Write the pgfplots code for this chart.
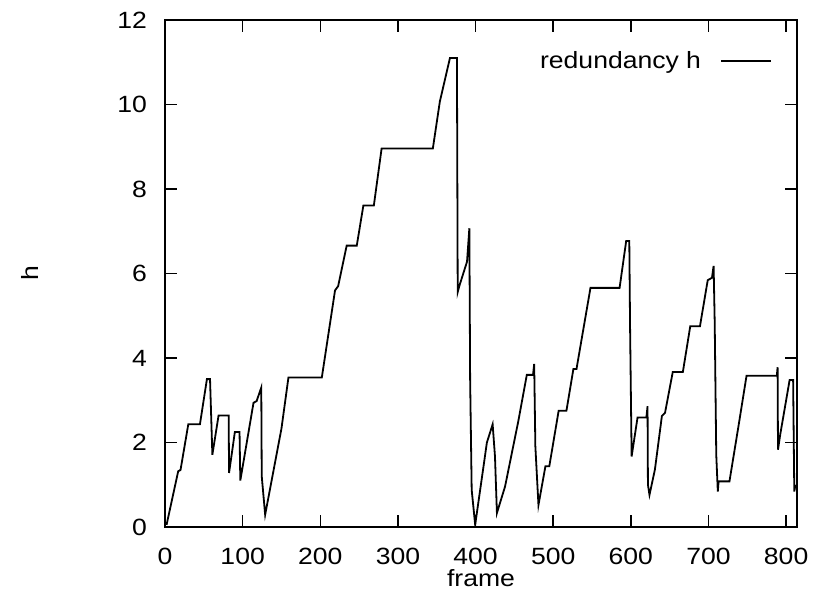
\documentclass[border=0pt]{standalone}
\usepackage{pgfplots}
\pgfplotsset{compat=1.18}
\usepackage{fontspec}
\setmainfont{Liberation Sans}[FakeStretch=1.13]
\begin{document}
\begin{tikzpicture}
\path[use as bounding box] (-165bp,-68bp) rectangle (657bp,527bp);
\begin{axis}[
  at={(0,0)}, anchor=south west,
  scale only axis,
  width=632bp, height=507bp,
  xmin=0, xmax=814, ymin=0, ymax=12,
  xtick={0,100,...,800}, ytick={0,2,...,12},
  xtick pos=both, ytick pos=both, tick align=inside,
  major tick length=12bp,
  axis line style={line width=1.5bp},
  every tick/.style={line width=1.5bp, black},
  /pgf/number format/assume math mode=true,
  font=\fontsize{23.5bp}{28bp}\selectfont,
  xticklabel style={anchor=center, inner sep=0pt, yshift=-29bp},
  yticklabel style={anchor=east, inner sep=0pt, xshift=-18bp},
  xlabel={frame}, ylabel={h},
  xlabel style={at={(axis description cs:0.5,-0.1016)}, anchor=center, inner sep=0pt},
  ylabel style={at={(axis description cs:-0.2136,0.5)}, anchor=center, inner sep=0pt},
  legend plot pos=right,
  legend style={draw=none, fill=none, at={(0.965,0.919)}, anchor=east, font=\fontsize{23.5bp}{28bp}\selectfont},
  legend image code/.code={\path[draw=none, fill=none] (0bp,-1bp) rectangle (1bp,1bp); \draw[#1, line width=1.3bp] (18bp,0bp) -- (68bp,0bp);},
]
\addplot[black, line width=1.8bp] coordinates {
(2,0.05) (17,1.32) (20,1.35) (30,2.43) (45,2.43) (54,3.5) (58,3.5)
(61,1.71) (69,2.64) (82,2.64) (82.5,1.28) (90,2.25) (96,2.25) (97,1.1)
(114,2.94) (118,2.98) (124,3.3) (124.6,1.2) (129,0.29) (150,2.33) (159,3.54)
(202,3.54) (219,5.6) (223,5.7) (234,6.66) (247,6.66) (255.5,7.61) (269,7.61)
(279,8.96) (345,8.96) (354,10.07) (367,11.1) (376,11.1) (377,5.56) (379,5.7)
(389,6.28) (392,7.07) (393,3.5) (395,0.88) (399.5,0.05) (414.6,2.0) (422,2.43)
(425,1.67) (427.5,0.33) (438,0.96) (455,2.5) (466,3.6) (474,3.6) (475.5,3.86)
(477,1.91) (481,0.52) (490,1.44) (495,1.44) (507,2.75) (517,2.75) (526,3.74)
(530,3.74) (548,5.66) (585.5,5.66) (594,6.77) (598,6.77) (599,4.73) (601,1.67)
(608.6,2.59) (620,2.59) (621.5,2.86) (622,1.0) (624,0.76) (631,1.36) (640,2.63)
(644,2.7) (654,3.67) (667,3.67) (676.5,4.75) (689,4.75) (699,5.84) (704.5,5.9)
(706.6,6.18) (708,4.85) (710,1.71) (712,0.84) (713,1.08) (727,1.08) (739,2.43)
(749,3.58) (788,3.58) (789,3.78) (789.5,1.83) (792.5,2.2) (804.5,3.48) (809,3.48)
(810.5,0.84) (812,1.0)
};
\addlegendentry{redundancy h}
\end{axis}
\end{tikzpicture}
\end{document}
